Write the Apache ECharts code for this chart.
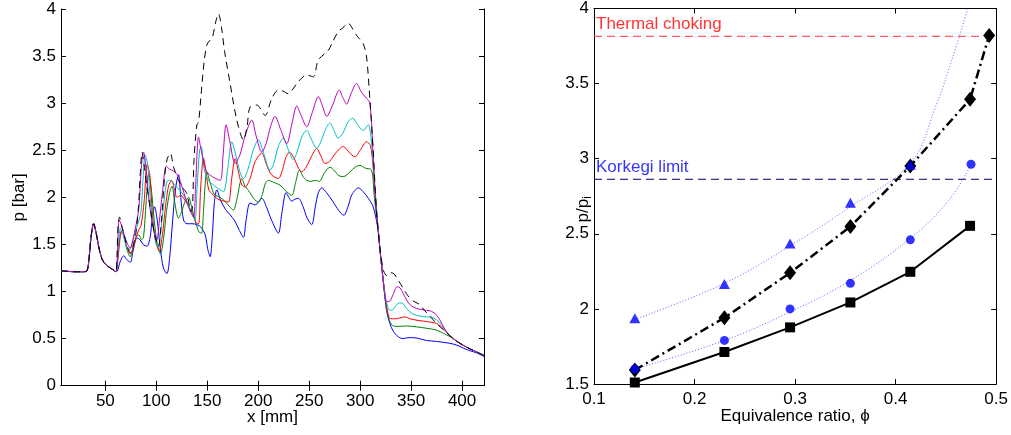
<!DOCTYPE html>
<html><head><meta charset="utf-8">
<script src="https://cdn.jsdelivr.net/npm/echarts@6/dist/echarts.min.js"></script>
<style>html,body{margin:0;padding:0;background:#fff}#c{width:1011px;height:435px}</style>
</head><body><div id="c"></div>
<script>
// ---------- Left panel: pressure distributions p [bar] vs x [mm] ----------
const xTicksLeft = [50,100,150,200,250,300,350,400];
const commonStart = [[6.5,1.22],[12,1.215],[20,1.21],[28,1.21],[32,1.22],[34,1.35],[36,1.58],[38.5,1.72],[41,1.62],[44,1.45],[47,1.34],[51,1.28],[55,1.25],[59,1.22],[60.5,1.21]];
const commonDrop = [[317.7,1.65],[319.4,1.45],[322.6,1.12]];
const commonEnd = [[395,0.47],[401,0.43],[408,0.39],[414,0.36],[421.5,0.32]];

const blueRest = [[62,1.22],[64,1.3],[66.3,1.36],[68,1.38],[71,1.34],[74.5,1.31],[77,1.42],[81,1.57],[84,1.55],[87,1.5],[90.8,1.48],[94,1.58],[96,1.78],[98.3,1.9],[101,1.75],[104,1.45],[107,1.25],[110.4,1.19],[113,1.35],[116,1.75],[119,2.1],[121.8,2.24],[124,2.0],[126.7,1.76],[130,1.72],[135,1.72],[140,1.71],[144,1.68],[148,1.6],[150.5,1.45],[152.8,1.37],[155,1.6],[157,1.95],[159.4,2.08],[163,1.97],[168,1.87],[172,1.82],[177,1.75],[181,1.66],[185.5,1.575],[188,1.75],[192,1.94],[197,1.92],[203.5,1.99],[208,1.9],[213,1.76],[219.8,1.62],[223,1.82],[227.3,2.05],[230,2.0],[232.9,1.96],[236,1.98],[239.4,1.99],[244,1.9],[248,1.78],[252.5,1.71],[256,1.9],[259,2.05],[262.3,2.10],[267,2.05],[273,1.96],[279,1.86],[284.1,1.81],[288,1.9],[292,2.03],[298.2,2.10],[303,2.06],[308,1.99],[312.8,1.90]];
const blueTail = [[325.9,0.8],[329.2,0.66],[332.4,0.58],[337.3,0.52],[342.2,0.50],[347,0.51],[352,0.51],[358,0.50],[365.1,0.48],[375,0.47],[388,0.45],[395,0.43],[401,0.40],[408,0.37],[414,0.35],[421.5,0.31]];

const greenRest = [[62,1.35],[64,1.55],[66.3,1.64],[68.5,1.58],[71,1.45],[74.5,1.37],[77,1.45],[80,1.58],[83,1.6],[85.5,1.55],[87.5,1.58],[90,1.95],[92.5,2.25],[95,2.1],[98,1.75],[101,1.5],[104,1.40],[107,1.55],[110,1.85],[113,2.05],[115.5,2.12],[118,1.95],[121.8,1.78],[125,1.85],[128,1.95],[131.6,2.0],[135,1.88],[139,1.72],[142,1.63],[144.5,1.62],[146.5,1.9],[149.6,2.27],[153,2.15],[157,2.03],[162.6,2.0],[168,1.95],[172,1.9],[175.7,1.865],[179,1.98],[183.9,2.2],[187,2.12],[192,2.05],[196,1.98],[200.2,1.95],[204,2.03],[207,2.15],[210,2.18],[215,2.16],[221.4,2.13],[226,2.08],[232.9,2.02],[236.5,2.15],[240.4,2.29],[244,2.22],[247.6,2.18],[252,2.17],[256,2.18],[260,2.17],[265,2.26],[270.4,2.32],[275,2.28],[279,2.23],[283.5,2.22],[290,2.27],[295,2.32],[299.8,2.34],[305,2.31],[311.2,2.29],[313.5,2.05],[316,1.8]];
const greenTail = [[325.9,0.82],[329.2,0.68],[332.4,0.635],[337,0.63],[345.5,0.634],[355,0.625],[365.1,0.61],[375,0.59],[384.7,0.54],[390,0.51]];

const redRest = [[62,1.3],[64,1.52],[65.5,1.64],[68,1.6],[71,1.48],[74.5,1.4],[78,1.5],[82.6,1.65],[85,1.7],[88,1.95],[91,2.35],[93.5,2.25],[96,1.85],[99,1.55],[102.9,1.43],[106,1.6],[109,1.9],[112,2.12],[115,2.18],[118,2.08],[120.2,2.0],[124,2.02],[128,1.97],[132,1.9],[136,1.82],[139,1.73],[141.5,1.72],[143.5,2.1],[146.3,2.42],[149,2.25],[151.5,2.08],[154.5,2.04],[158,2.0],[162.6,1.97],[167,1.96],[170.8,1.95],[174,2.2],[177.3,2.41],[181,2.25],[184,2.13],[187.1,2.11],[192,2.2],[197,2.38],[203.5,2.47],[208,2.35],[213,2.24],[219.8,2.20],[224,2.3],[227,2.42],[230.6,2.48],[235,2.42],[239,2.32],[242.7,2.27],[247,2.32],[252,2.43],[257.4,2.52],[261,2.45],[265.5,2.36],[270,2.38],[276,2.47],[283.5,2.54],[289,2.48],[294.9,2.43],[300,2.5],[306.3,2.59],[310,2.55],[312.5,2.35],[315,2.0]];
const redTail = [[325.9,0.85],[329.2,0.715],[334,0.71],[339,0.72],[343.9,0.73],[349,0.71],[358.6,0.69],[366,0.68],[374.9,0.66],[381,0.61],[388,0.53]];

const cyanRest = [[62,1.35],[63.5,1.58],[64.7,1.67],[67,1.62],[70,1.5],[73,1.44],[76,1.5],[79,1.62],[82,1.72],[85,1.85],[87,2.2],[89,2.45],[91.5,2.35],[94,2.0],[97,1.7],[100,1.5],[102,1.47],[105,1.7],[108,2.0],[110.4,2.17],[113,2.18],[117,2.15],[121,2.1],[125,2.05],[129,1.98],[133,1.88],[136,1.8],[138,1.76],[140,2.1],[142.5,2.5],[144,2.54],[147,2.3],[151.2,2.18],[155,2.14],[160,2.1],[165.9,2.06],[170,2.3],[174.1,2.59],[178,2.45],[182,2.27],[185.5,2.20],[190,2.3],[195,2.5],[200.2,2.61],[205,2.48],[211.6,2.29],[215,2.35],[220,2.55],[224.7,2.63],[229,2.52],[234.5,2.40],[238,2.48],[243,2.65],[247.6,2.71],[252,2.62],[257.4,2.52],[261,2.58],[266,2.72],[270.4,2.79],[274,2.72],[278.5,2.63],[283,2.68],[288,2.8],[292.6,2.84],[297,2.78],[303,2.71],[307.9,2.77],[310.5,2.65],[313.5,2.25],[316,1.9]];
const cyanTail = [[325.9,0.88],[329.2,0.80],[332.4,0.81],[335,0.85],[339,0.88],[342.2,0.87],[345.5,0.82],[352,0.76],[358.6,0.74],[365.1,0.73],[368.4,0.73],[374.9,0.70],[380,0.64],[388,0.53]];

const magentaRest = [[61.5,1.3],[62.5,1.6],[63.5,1.76],[66,1.7],[69,1.58],[72,1.5],[74.5,1.46],[77,1.55],[80,1.7],[83,1.9],[85.5,2.35],[87.5,2.48],[90,2.3],[93,1.95],[97,1.68],[100.6,1.55],[103,1.75],[106,2.05],[109.8,2.33],[113,2.3],[117,2.28],[121.8,2.22],[125,2.12],[129,1.98],[133,1.86],[136.5,1.79],[138.5,2.1],[141.4,2.64],[144,2.5],[147,2.35],[149.6,2.27],[155,2.22],[162.6,2.18],[165.5,2.45],[168.5,2.77],[172,2.6],[177.3,2.36],[182,2.45],[187,2.65],[193.7,2.82],[198,2.65],[203.5,2.48],[208,2.58],[212,2.75],[216.5,2.86],[222,2.72],[228,2.57],[233,2.78],[237.8,2.97],[242,2.87],[247.6,2.75],[253,2.9],[259,3.07],[263,2.97],[267.2,2.86],[273,2.98],[279.5,3.14],[283,3.06],[286.7,2.99],[291,3.1],[296.5,3.21],[301,3.12],[306.3,3.05],[309.6,3.0],[312.8,2.45],[315,2.0]];
const magentaTail = [[325.9,0.89],[329.2,0.9],[332.4,0.97],[336.3,1.05],[339,1.04],[342.2,0.98],[345.5,0.91],[350,0.85],[355.3,0.82],[360,0.81],[365.1,0.80],[370,0.79],[374.9,0.75],[378.1,0.70],[383,0.6],[388,0.53]];

const blackRest = [[61.5,1.4],[62.5,1.7],[64,1.79],[66,1.7],[68,1.62],[71,1.5],[74.5,1.41],[77,1.48],[80,1.62],[82.5,1.9],[84.5,2.3],[86,2.48],[88,2.35],[91,2.1],[94,1.9],[98,1.62],[102,1.48],[105,1.75],[108,2.2],[110.5,2.4],[113.7,2.47],[117,2.32],[121.8,2.18],[126,2.1],[130,2.04],[134,1.85],[135.5,1.9],[137,2.4],[139.8,2.77],[141.5,2.8],[144,3.1],[147,3.45],[149.6,3.62],[152,3.66],[155,3.7],[158,3.85],[161,3.95],[164,3.8],[167,3.55],[172.4,3.21],[179,2.82],[185.5,2.61],[189,2.75],[192,2.96],[198.6,2.98],[206.7,2.87],[213.3,3.05],[219.8,3.14],[224,3.13],[229.5,3.10],[234,3.15],[239.4,3.23],[247.6,3.30],[254,3.28],[259,3.46],[268.7,3.56],[273,3.65],[278.5,3.76],[283,3.8],[288.3,3.85],[292,3.8],[296.5,3.72],[303,3.63],[306.3,3.49],[309.6,3.03],[312.8,2.5],[316,1.85],[319.5,1.45],[323,1.22],[326,1.17],[329.2,1.2],[333,1.19],[337.3,1.12],[342,1.04],[346.5,0.96],[352,0.9],[358.6,0.86],[363,0.8],[368.4,0.74],[374.9,0.66],[381,0.6],[388,0.53]];

// ---------- Right panel: p/p_i vs equivalence ratio ----------
const phiRange = [0.1, 0.5];
const squarePts = [[0.1406,1.51],[0.2297,1.713],[0.295,1.877],[0.355,2.043],[0.4146,2.247],[0.474,2.553]];
const diamondPts = [[0.1406,1.593],[0.2297,1.941],[0.295,2.24],[0.355,2.548],[0.4146,2.951],[0.474,3.395],[0.493,3.82]];
const trianglePts = [[0.1406,1.937],[0.2297,2.165],[0.295,2.435],[0.355,2.706],[0.4146,2.96]];
const circlePts = [[0.1406,1.6],[0.2297,1.79],[0.295,2.0],[0.355,2.17],[0.4146,2.46],[0.475,2.963]];
const triangleFit = [[0.1406,1.93],[0.2297,2.17],[0.295,2.42],[0.355,2.68],[0.4146,2.97],[0.44,3.35],[0.457,3.68],[0.474,4.05]];
const circleFit = [[0.1406,1.6],[0.2297,1.79],[0.295,1.98],[0.355,2.19],[0.4146,2.47],[0.4525,2.72],[0.475,2.96]];
const thermalChoking = 3.815;
const korkegiLimit = 2.863;

const FONT = 'Liberation Sans, Arial, Helvetica, sans-serif';
const FS = 17;

const chart = echarts.init(document.getElementById('c'), null, {renderer: 'canvas'});

function lineS(name, data, color, extra) {
  return Object.assign({
    name, type: 'line', data, xAxisIndex: 0, yAxisIndex: 0,
    showSymbol: false, symbol: 'none', smooth: 0.3, clip: true,
    lineStyle: {color, width: 1}, itemStyle: {color}, z: 3
  }, extra || {});
}
function limitLine(name, value, lineColor) {
  return {name, type: 'line', xAxisIndex: 2, yAxisIndex: 2, z: 2, color: lineColor,
    data: [[phiRange[0], value], [phiRange[1], value]], symbol: 'none', showSymbol: false,
    lineStyle: {color: lineColor, width: 1, type: [8, 5]}};
}
function limitText(name, value, textColor) {
  return {name: name + ' label', type: 'scatter', xAxisIndex: 2, yAxisIndex: 2, z: 7,
    data: [[phiRange[0], value]], symbolSize: 2, silent: true,
    itemStyle: {color: 'rgba(0,0,0,0)'},
    label: {show: true, formatter: name, position: [3, -19], color: textColor,
            fontSize: FS, fontFamily: FONT, align: 'left', verticalAlign: 'top'}};
}

const tickStyle = {show: true, inside: true, length: 5, lineStyle: {color: '#000', width: 1}};
const lineAx = {show: true, lineStyle: {color: '#000', width: 1}};
const lblStyle = {color: '#000', fontSize: FS, fontFamily: FONT};

const option = {
  animation: false,
  backgroundColor: '#fff',
  textStyle: {fontFamily: FONT},
  grid: [
    {left: 61, top: 9, width: 423, height: 376.7, containLabel: false},
    {left: 594, top: 7.5, width: 404.3, height: 376.5, containLabel: false}
  ],
  xAxis: [
    {gridIndex: 0, type: 'value', min: 6.5, max: 421.5, position: 'bottom',
     axisLine: lineAx, axisTick: Object.assign({customValues: xTicksLeft}, tickStyle),
     axisLabel: Object.assign({customValues: xTicksLeft, margin: 7}, lblStyle),
     splitLine: {show: false},
     name: 'x [mm]', nameLocation: 'middle', nameGap: 23, nameMoveOverlap: false, nameTextStyle: lblStyle},
    {gridIndex: 0, type: 'value', min: 6.5, max: 421.5, position: 'top',
     axisLine: lineAx, axisTick: Object.assign({customValues: xTicksLeft}, tickStyle),
     axisLabel: {show: false}, splitLine: {show: false}},
    {gridIndex: 1, type: 'value', min: phiRange[0], max: phiRange[1], interval: 0.1, position: 'bottom',
     axisLine: lineAx, axisTick: tickStyle,
     axisLabel: Object.assign({margin: 7}, lblStyle), splitLine: {show: false},
     name: 'Equivalence ratio, \u03D5', nameLocation: 'middle', nameGap: 24, nameMoveOverlap: false, nameTextStyle: lblStyle},
    {gridIndex: 1, type: 'value', min: phiRange[0], max: phiRange[1], interval: 0.1, position: 'top',
     axisLine: lineAx, axisTick: tickStyle, axisLabel: {show: false}, splitLine: {show: false}}
  ],
  yAxis: [
    {gridIndex: 0, type: 'value', min: 0, max: 4, interval: 0.5, position: 'left',
     axisLine: lineAx, axisTick: tickStyle,
     axisLabel: Object.assign({margin: 5}, lblStyle), splitLine: {show: false},
     name: 'p [bar]', nameLocation: 'middle', nameGap: 33, nameRotate: 90, nameMoveOverlap: false, nameTextStyle: lblStyle},
    {gridIndex: 0, type: 'value', min: 0, max: 4, interval: 0.5, position: 'right',
     axisLine: lineAx, axisTick: tickStyle, axisLabel: {show: false}, splitLine: {show: false}},
    {gridIndex: 1, type: 'value', min: 1.5, max: 4, interval: 0.5, position: 'left',
     axisLine: lineAx, axisTick: tickStyle,
     axisLabel: Object.assign({margin: 5}, lblStyle), splitLine: {show: false},
     name: '{a|p/p}{s|i}', nameLocation: 'middle', nameGap: 0, nameRotate: 90, nameMoveOverlap: false,
     nameTextStyle: {color: '#000', fontFamily: FONT, rich: {
       a: {fontSize: FS, fontFamily: FONT, color: '#000'},
       s: {fontSize: 12, fontFamily: FONT, color: '#000', padding: [9, 26, 0, 0]}
     }}},
    {gridIndex: 1, type: 'value', min: 1.5, max: 4, interval: 0.5, position: 'right',
     axisLine: lineAx, axisTick: tickStyle, axisLabel: {show: false}, splitLine: {show: false}}
  ],
  series: [
    lineS('blue', commonStart.concat(blueRest, commonDrop, blueTail), '#0000ff'),
    lineS('green', commonStart.concat(greenRest, commonDrop, greenTail, commonEnd), '#008000'),
    lineS('red', commonStart.concat(redRest, commonDrop, redTail, commonEnd), '#ff0000'),
    lineS('cyan', commonStart.concat(cyanRest, commonDrop, cyanTail, commonEnd), '#00bfbf'),
    lineS('magenta', commonStart.concat(magentaRest, commonDrop, magentaTail, commonEnd), '#bf00bf'),
    lineS('black', commonStart.concat(blackRest, commonEnd), '#000000', {lineStyle: {color: '#000', width: 1, type: [7, 5]}, z: 4}),
    // right panel
    limitLine('Thermal choking', thermalChoking, '#ff3333'),
    limitLine('Korkegi limit', korkegiLimit, '#000066'),
    limitText('Thermal choking', thermalChoking, '#ff0000'),
    limitText('Korkegi limit', korkegiLimit, '#0000ff'),
    {name: 'triangleFit', type: 'line', xAxisIndex: 2, yAxisIndex: 2, data: triangleFit, smooth: 0.4, symbol: 'none', clip: true,
     lineStyle: {color: '#6060ff', width: 1, type: [1, 2]}, z: 2},
    {name: 'circleFit', type: 'line', xAxisIndex: 2, yAxisIndex: 2, data: circleFit, smooth: 0.4, symbol: 'none', clip: true,
     lineStyle: {color: '#6060ff', width: 1, type: [1, 2]}, z: 2},
    {name: 'squares', type: 'line', xAxisIndex: 2, yAxisIndex: 2, data: squarePts, symbol: 'rect', symbolSize: 10,
     lineStyle: {color: '#000', width: 2}, itemStyle: {color: '#000'}, z: 4},
    {name: 'diamonds', type: 'line', xAxisIndex: 2, yAxisIndex: 2, data: diamondPts, symbol: 'diamond', symbolSize: [12, 15],
     lineStyle: {color: '#000', width: 2.5, type: [9, 4, 2, 4]}, itemStyle: {color: '#000'}, z: 5},
    {name: 'triangles', type: 'scatter', xAxisIndex: 2, yAxisIndex: 2, data: trianglePts, symbol: 'triangle', symbolSize: [11, 10],
     itemStyle: {color: '#0000ff'}, z: 6},
    {name: 'circles', type: 'scatter', xAxisIndex: 2, yAxisIndex: 2, data: circlePts, symbol: 'circle', symbolSize: 9,
     itemStyle: {color: '#0000ff'}, z: 6}
  ]
};
chart.setOption(option);
</script>
</body></html>
